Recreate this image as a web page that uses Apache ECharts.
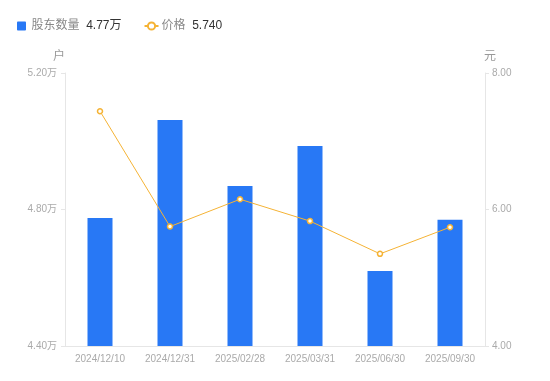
<!DOCTYPE html>
<html><head><meta charset="utf-8">
<script src="https://cdn.jsdelivr.net/npm/echarts@6/dist/echarts.min.js"></script>
<style>html,body{margin:0;padding:0;background:#fff}#c{width:550px;height:381px}</style>
</head><body><div id="c"></div>
<script>
const categories = ['2024/12/10','2024/12/31','2025/02/28','2025/03/31','2025/06/30','2025/09/30'];
const holders = [4.775, 5.062, 4.869, 4.986, 4.620, 4.770]; // 万户
const prices = [7.44, 5.75, 6.15, 5.83, 5.35, 5.74];
const leftTicks = {min: 4.40, max: 5.20, interval: 0.40};
const rightTicks = {min: 4, max: 8, interval: 2};

const chart = echarts.init(document.getElementById('c'));
const lastVals = {'股东数量': holders[holders.length-1].toFixed(2) + '万', '价格': prices[prices.length-1].toFixed(3)};
const font = '"Liberation Sans", Arial, "Noto Sans CJK SC", sans-serif';
chart.setOption({
  animation: false,
  textStyle: {fontFamily: font},
  legend: {
    left: 12, top: 15, itemGap: 22, itemWidth: 14, itemHeight: 9, itemStyle: {},
    data: [{name: '股东数量', icon: 'path://M1,0H9A1,1,0,0,1,10,1V9A1,1,0,0,1,9,10H1A1,1,0,0,1,0,9V1A1,1,0,0,1,1,0Z'}, {name: '价格'}],
    formatter: n => '{n|' + n + '}  {v|' + lastVals[n] + '}',
    textStyle: {padding: [0, 0, 0, -2], rich: {n: {color: '#888', fontSize: 12, fontFamily: font}, v: {color: '#333', fontSize: 12, fontFamily: font}}}
  },
  grid: {left: 65, right: 65, top: 73, bottom: 35},
  xAxis: {
    type: 'category', data: categories,
    axisLine: {lineStyle: {color: '#e6e6e6'}},
    axisTick: {show: false},
    axisLabel: {color: '#aaa', fontSize: 10, margin: 8}
  },
  yAxis: [{
    type: 'value', name: '户', nameTextStyle: {color: '#999', fontSize: 12, padding: [0, 12, 0, 0]}, nameGap: 10,
    min: leftTicks.min, max: leftTicks.max, interval: leftTicks.interval,
    axisLine: {show: true, lineStyle: {color: '#e6e6e6'}},
    axisTick: {show: true, length: 4, lineStyle: {color: '#e6e6e6'}},
    splitLine: {show: false},
    axisLabel: {color: '#aaa', fontSize: 10, margin: 8, formatter: v => v.toFixed(2) + '万'}
  }, {
    type: 'value', name: '元', nameTextStyle: {color: '#999', fontSize: 12, padding: [0, 0, 0, 10]}, nameGap: 10,
    min: rightTicks.min, max: rightTicks.max, interval: rightTicks.interval,
    axisLine: {show: true, lineStyle: {color: '#e6e6e6'}},
    axisTick: {show: true, length: 4, lineStyle: {color: '#e6e6e6'}},
    splitLine: {show: false},
    axisLabel: {color: '#aaa', fontSize: 10, margin: 7, formatter: v => v.toFixed(2)}
  }],
  series: [{
    name: '股东数量', type: 'bar', data: holders, barWidth: 25,
    itemStyle: {color: '#2878f5'}
  }, {
    name: '价格', type: 'line', yAxisIndex: 1, data: prices,
    symbol: 'circle', symbolSize: 5,
    lineStyle: {color: '#f5b335', width: 1},
    itemStyle: {color: '#fff', borderColor: '#f5b335', borderWidth: 1.5}
  }]
});
</script></body></html>
